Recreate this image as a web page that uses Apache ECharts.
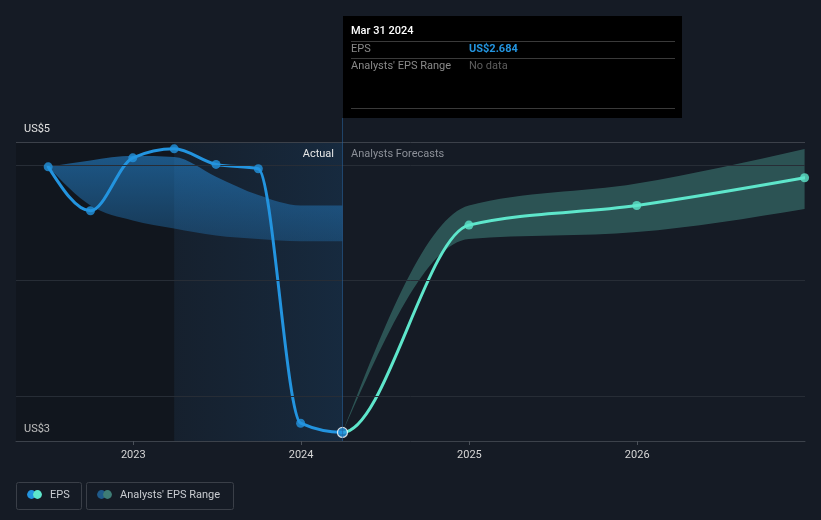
<!DOCTYPE html>
<html>
<head>
<meta charset="utf-8">
<script src="https://cdn.jsdelivr.net/npm/echarts@6/dist/echarts.min.js"></script>
<style>
html,body{margin:0;padding:0;background:#151b25;}
#chart{width:821px;height:520px;}
</style>
</head>
<body>
<div id="chart"></div>
<script>
// ---- data ----
const actualDates = ['2022-06-30','2022-09-30','2022-12-31','2023-03-31','2023-06-30','2023-09-30','2023-12-31','2024-03-31'];
const actualEps   = [4.985, 4.604, 5.063, 5.141, 5.006, 4.968, 2.764, 2.684];
const pastRangeLow  = [4.985, 4.65, 4.52, 4.45, 4.39, 4.36, 4.34, 4.34];
const pastRangeHigh = [4.985, 5.04, 5.08, 5.07, 4.90, 4.74, 4.65, 4.65];
const forecastDates = ['2024-03-31','2024-12-31','2025-12-31','2026-12-31'];
const forecastEps   = [2.684, 4.48, 4.65, 4.89];
const forecastLow   = [2.684, 4.36, 4.42, 4.62];
const forecastHigh  = [2.684, 4.65, 4.84, 5.14];
const gridValues = [3, 4, 5];
const yTickLabels = ['US$5', 'US$3'];
const xAxisMin = '2022-04-21';
const xAxisMax = '2026-12-31 22:00:00';
const yAxisMin = 2.61;
const yAxisMax = 5.2;
const pastYearStart = '2023-03-31';
const lastActualDate = '2024-03-31';
const tooltipTitle = 'Mar 31 2024';
const tooltipEps = 'US$2.684';

const FONT = 'Roboto, "Noto Sans", sans-serif';
const BLUE = '#2394df';
const TEAL = '#5ee6cb';

const ts = d => (echarts.time && echarts.time.parse) ? +echarts.time.parse(d) : new Date(d).getTime();
const pair = (dates, vals) => dates.map((d, i) => [ts(d), vals[i]]);

// ---- monotone-x cubic path helpers (pixel space) ----
function tangents(p) {
  const n = p.length, t = new Array(n).fill(0);
  const sign = v => v < 0 ? -1 : 1;
  for (let i = 1; i < n - 1; i++) {
    const h0 = p[i][0] - p[i - 1][0], h1 = p[i + 1][0] - p[i][0];
    const s0 = (p[i][1] - p[i - 1][1]) / h0, s1 = (p[i + 1][1] - p[i][1]) / h1;
    const q = (s0 * h1 + s1 * h0) / (h0 + h1);
    t[i] = (sign(s0) + sign(s1)) * Math.min(Math.abs(s0), Math.abs(s1), 0.5 * Math.abs(q)) || 0;
  }
  if (n > 1) {
    const sA = (p[1][1] - p[0][1]) / (p[1][0] - p[0][0]);
    const sB = (p[n - 1][1] - p[n - 2][1]) / (p[n - 1][0] - p[n - 2][0]);
    t[0] = n > 2 ? (3 * sA - t[1]) / 2 : sA;
    t[n - 1] = n > 2 ? (3 * sB - t[n - 2]) / 2 : sB;
  }
  return t;
}
function segs(p, t, from, to) {
  let d = '';
  for (let i = from; i < to; i++) {
    const dx = (p[i + 1][0] - p[i][0]) / 3;
    d += ' C' + (p[i][0] + dx) + ' ' + (p[i][1] + dx * t[i]) + ' ' + (p[i + 1][0] - dx) + ' ' +
      (p[i + 1][1] - dx * t[i + 1]) + ' ' + p[i + 1][0] + ' ' + p[i + 1][1];
  }
  return d;
}
function segsRev(p, t) {
  let d = '';
  for (let i = p.length - 1; i > 0; i--) {
    const dx = (p[i][0] - p[i - 1][0]) / 3;
    d += ' C' + (p[i][0] - dx) + ' ' + (p[i][1] - dx * t[i]) + ' ' + (p[i - 1][0] + dx) + ' ' +
      (p[i - 1][1] + dx * t[i - 1]) + ' ' + p[i - 1][0] + ' ' + p[i - 1][1];
  }
  return d;
}
function bandPath(api, dates, lo, hi) {
  const up = pair(dates, hi).map(v => api.coord(v));
  const dn = pair(dates, lo).map(v => api.coord(v));
  const tu = tangents(up), td = tangents(dn);
  const n = up.length;
  return 'M' + up[0][0] + ' ' + up[0][1] + segs(up, tu, 0, n - 1) +
    ' L' + dn[n - 1][0] + ' ' + dn[n - 1][1] + segsRev(dn, td) + ' Z';
}

const chart = echarts.init(document.getElementById('chart'), null, {renderer: 'canvas'});

const option = {
  backgroundColor: '#151b25',
  animation: false,
  grid: {left: 16, right: 16, top: 142, bottom: 79},
  xAxis: {
    type: 'time',
    min: xAxisMin,
    max: xAxisMax,
    minInterval: 365 * 24 * 3600 * 1000,
    maxInterval: 366 * 24 * 3600 * 1000,
    axisLine: {show: true, lineStyle: {color: '#3c424b', width: 1}},
    axisTick: {show: true, length: 4, lineStyle: {color: '#4a5059'}},
    axisLabel: {color: '#d6d6d6', fontSize: 11, fontFamily: FONT, margin: 9,
      formatter: '{yyyy}', showMinLabel: false, showMaxLabel: false},
    splitLine: {show: false}
  },
  yAxis: {
    type: 'value',
    min: yAxisMin,
    max: yAxisMax,
    axisLine: {show: false},
    axisTick: {show: false},
    axisLabel: {show: false},
    splitLine: {show: false}
  },
  series: [
    {
      name: 'background', type: 'line',
      data: pair(actualDates, actualEps),
      symbol: 'none', lineStyle: {opacity: 0}, silent: true, z: 1,
      markArea: {
        silent: true,
        data: [
          [{xAxis: xAxisMin, itemStyle: {color: 'rgba(0,0,0,0.17)'}}, {xAxis: pastYearStart}],
          [{xAxis: pastYearStart, itemStyle: {color: new echarts.graphic.LinearGradient(0, 0, 1, 0, [
            {offset: 0, color: 'rgba(30,95,150,0.08)'},
            {offset: 1, color: 'rgba(30,110,180,0.18)'}
          ])}}, {xAxis: lastActualDate}]
        ]
      },
      markLine: {
        silent: true, symbol: 'none', label: {show: false},
        data: gridValues.map(v => ({yAxis: v, lineStyle: {color: '#272d36', width: 1, type: 'solid'}}))
          .concat([{yAxis: yAxisMax, lineStyle: {color: '#3c414a', width: 1, type: 'solid'}}])
      }
    },
    {
      name: "Analysts' EPS Range (past)", type: 'custom', clip: true, silent: true, z: 2,
      data: [pair(actualDates, actualEps)[0]],
      renderItem: (params, api) => ({
        type: 'path',
        shape: {pathData: bandPath(api, actualDates, pastRangeLow, pastRangeHigh)},
        style: {fill: new echarts.graphic.LinearGradient(0, 0, 0, 1, [
          {offset: 0, color: 'rgba(38,140,220,0.55)'},
          {offset: 1, color: 'rgba(38,140,220,0.28)'}
        ]), stroke: null}
      })
    },
    {
      name: "Analysts' EPS Range", type: 'custom', clip: true, silent: true, z: 2,
      data: [pair(forecastDates, forecastEps)[0]],
      renderItem: (params, api) => ({
        type: 'path',
        shape: {pathData: bandPath(api, forecastDates, forecastLow, forecastHigh)},
        style: {fill: 'rgba(74,152,142,0.45)', stroke: null}
      })
    },
    {
      name: 'EPS', type: 'custom', clip: true, silent: true, z: 3,
      data: [pair(actualDates, actualEps)[0]],
      renderItem: (params, api) => {
        const all = pair(actualDates, actualEps).concat(pair(forecastDates, forecastEps).slice(1)).map(v => api.coord(v));
        const t = tangents(all);
        const k = actualDates.length - 1;
        const blue = 'M' + all[0][0] + ' ' + all[0][1] + segs(all, t, 0, k);
        const teal = 'M' + all[k][0] + ' ' + all[k][1] + segs(all, t, k, all.length - 1);
        return {type: 'group', children: [
          {type: 'path', shape: {pathData: teal}, style: {fill: null, stroke: TEAL, lineWidth: 3, lineJoin: 'round', lineCap: 'round'}},
          {type: 'path', shape: {pathData: blue}, style: {fill: null, stroke: BLUE, lineWidth: 3, lineJoin: 'round', lineCap: 'round'}}
        ]};
      }
    },
    {
      name: 'EPS forecast points', type: 'scatter', z: 4, silent: true,
      data: pair(forecastDates, forecastEps).slice(1),
      symbol: 'circle', symbolSize: 9, itemStyle: {color: TEAL}
    },
    {
      name: 'EPS points', type: 'scatter', z: 5, silent: true,
      data: pair(actualDates, actualEps).map((p, i, arr) => i === arr.length - 1
        ? {value: p, symbolSize: 10, itemStyle: {color: BLUE, borderColor: '#ffffff', borderWidth: 1.2}}
        : p),
      symbol: 'circle', symbolSize: 9, itemStyle: {color: BLUE}
    }
  ],
  graphic: [
    // y tick labels
    {type: 'text', left: 24, top: 124, style: {text: yTickLabels[0], fill: '#e2e2e2', font: '11px ' + FONT}},
    {type: 'text', left: 24, top: 424, style: {text: yTickLabels[1], fill: '#e2e2e2', font: '11px ' + FONT}},
    // pointer line
    {type: 'line', shape: {x1: 342.5, y1: 118, x2: 342.5, y2: 441}, style: {stroke: 'rgba(40,100,160,0.55)', lineWidth: 1}, z: 50},
    // Actual / Analysts Forecasts
    {type: 'text', x: 334, y: 154, style: {text: 'Actual', fill: '#e6e6e6', font: '11px ' + FONT, align: 'right', verticalAlign: 'middle'}, z: 60},
    {type: 'text', x: 351, y: 154, style: {text: 'Analysts Forecasts', fill: '#8c9098', font: '11px ' + FONT, align: 'left', verticalAlign: 'middle'}, z: 60},
    // tooltip box
    {type: 'group', z: 100, children: [
      {type: 'rect', shape: {x: 343, y: 16, width: 339, height: 102}, style: {fill: '#000000'}},
      {type: 'text', x: 351, y: 31, style: {text: tooltipTitle, fill: '#ffffff', font: '500 11px ' + FONT, verticalAlign: 'middle'}},
      {type: 'line', shape: {x1: 351, y1: 41.5, x2: 675, y2: 41.5}, style: {stroke: '#3a3a3a', lineWidth: 1}},
      {type: 'text', x: 351, y: 49, style: {text: 'EPS', fill: '#8a8a8a', font: '11px ' + FONT, verticalAlign: 'middle'}},
      {type: 'text', x: 469, y: 49, style: {text: tooltipEps, fill: BLUE, font: 'bold 11px ' + FONT, verticalAlign: 'middle'}},
      {type: 'line', shape: {x1: 351, y1: 58.5, x2: 675, y2: 58.5}, style: {stroke: '#3a3a3a', lineWidth: 1}},
      {type: 'text', x: 351, y: 66, style: {text: "Analysts' EPS Range", fill: '#8a8a8a', font: '11px ' + FONT, verticalAlign: 'middle'}},
      {type: 'text', x: 469, y: 66, style: {text: 'No data', fill: '#5e5e5e', font: '11px ' + FONT, verticalAlign: 'middle'}},
      {type: 'line', shape: {x1: 351, y1: 108.5, x2: 675, y2: 108.5}, style: {stroke: '#3a3a3a', lineWidth: 1}}
    ]},
    // legend
    {type: 'group', z: 100, children: [
      {type: 'rect', shape: {x: 16.5, y: 482.5, width: 65, height: 27, r: 2}, style: {fill: 'transparent', stroke: '#3a3f48', lineWidth: 1}},
      {type: 'circle', shape: {cx: 31.5, cy: 494.5, r: 4.4}, style: {fill: BLUE}},
      {type: 'circle', shape: {cx: 37.5, cy: 494.5, r: 4.4}, style: {fill: TEAL}},
      {type: 'text', x: 50, y: 495, style: {text: 'EPS', fill: '#c9ccd1', font: '11px ' + FONT, verticalAlign: 'middle'}},
      {type: 'rect', shape: {x: 86.5, y: 482.5, width: 147, height: 27, r: 2}, style: {fill: 'transparent', stroke: '#3a3f48', lineWidth: 1}},
      {type: 'circle', shape: {cx: 101.5, cy: 494.5, r: 4.4}, style: {fill: '#1f5a8a'}},
      {type: 'circle', shape: {cx: 107.5, cy: 494.5, r: 4.4}, style: {fill: '#3e7c75'}},
      {type: 'text', x: 120, y: 495, style: {text: "Analysts' EPS Range", fill: '#c9ccd1', font: '11px ' + FONT, verticalAlign: 'middle'}}
    ]}
  ]
};
chart.setOption(option);
</script>
</body>
</html>
